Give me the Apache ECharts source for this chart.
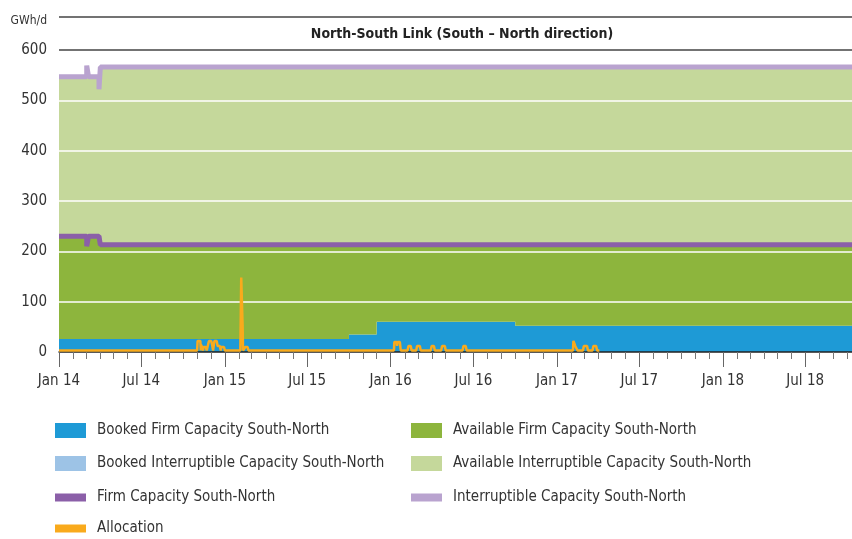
<!DOCTYPE html>
<html>
<head>
<meta charset="utf-8">
<title>North-South Link</title>
<script src="https://cdn.jsdelivr.net/npm/echarts@6/dist/echarts.min.js"></script>
<style>
  html, body { margin: 0; padding: 0; background: #fff; }
  #chart { width: 852px; height: 539px; }
</style>
</head>
<body>
<div id="chart"></div>
<script>
// capacity breakpoints in GWh/d, each value holds until the next date
const capDates = ['2014-01-01', '2014-03-03', '2014-03-07', '2014-03-30', '2014-04-02', '2015-10-01', '2015-12-01', '2016-10-01', '2018-10-12']
const bookedFirm = [26, 26, 26, 26, 26, 35, 60, 52, 52]
const bookedInterruptible = [0, 0, 0, 0, 0, 0, 0, 0, 0]
const firmCapacity = [230, 210, 230, 230, 213, 213, 213, 213, 213]
const interruptibleCapacity = [547, 569, 547, 522, 566, 566, 566, 566, 566]

// daily allocation
const allocDates = [
  '2014-01-01', '2014-11-01', '2014-11-02', '2014-11-08', '2014-11-09', '2014-11-10', '2014-11-12', '2014-11-14',
  '2014-11-15', '2014-11-20', '2014-11-22', '2014-11-26', '2014-11-27', '2014-12-02', '2014-12-04', '2014-12-06',
  '2014-12-09', '2014-12-14', '2014-12-16', '2014-12-21', '2014-12-23', '2014-12-24', '2014-12-30', '2015-01-01',
  '2015-02-04', '2015-02-06', '2015-02-08', '2015-02-09', '2015-02-10', '2015-02-14', '2015-02-15', '2015-02-20',
  '2015-02-22', '2016-01-08', '2016-01-09', '2016-01-14', '2016-01-15', '2016-01-16', '2016-01-21', '2016-01-23',
  '2016-02-07', '2016-02-09', '2016-02-14', '2016-02-16', '2016-02-26', '2016-02-28', '2016-03-05', '2016-03-07',
  '2016-03-29', '2016-03-31', '2016-04-05', '2016-04-07', '2016-04-21', '2016-04-23', '2016-04-29', '2016-05-01',
  '2016-06-07', '2016-06-09', '2016-06-14', '2016-06-16', '2017-02-05', '2017-02-06', '2017-02-08', '2017-02-10',
  '2017-02-13', '2017-02-15', '2017-02-27', '2017-03-01', '2017-03-08', '2017-03-10', '2017-03-20', '2017-03-22',
  '2017-03-28', '2017-03-30', '2017-04-04'
]
const allocValues = [
  3, 3, 22, 22, 3, 14, 14, 3,
  10, 10, 3, 3, 22, 22, 14, 3,
  22, 22, 12, 12, 3, 10, 10, 3,
  3, 148, 148, 53, 3, 3, 10, 10,
  3, 3, 20, 20, 12, 20, 20, 3,
  3, 12, 12, 3, 3, 12, 12, 3,
  3, 12, 12, 3, 3, 12, 12, 3,
  3, 12, 12, 3, 3, 22, 22, 12,
  12, 3, 3, 12, 12, 3, 3, 12,
  12, 3, 3
]

const labelDates = ['2014-01-01', '2014-07-01', '2015-01-01', '2015-07-01', '2016-01-01', '2016-07-01', '2017-01-01', '2017-07-01', '2018-01-01', '2018-07-01']
const tickLabels = ['Jan 14', 'Jul 14', 'Jan 15', 'Jul 15', 'Jan 16', 'Jul 16', 'Jan 17', 'Jul 17', 'Jan 18', 'Jul 18']

const FONT = '"DejaVu Sans Condensed", "Liberation Sans Narrow", sans-serif'

function toTime(s) {
  const p = s.split('-')
  return +new Date(+p[0], +p[1] - 1, +p[2])
}

// monthly tick positions Jan 2014 .. Oct 2018
const monthTicks = []
for (let y = 2014; y <= 2018; y++) {
  for (let m = 0; m < 12; m++) {
    if (y === 2018 && m > 9) break
    monthTicks.push(+new Date(y, m, 1))
  }
}
const labelTicks = labelDates.map(toTime)
const xMin = toTime('2014-01-01')
const xMax = toTime('2018-10-12')

const availableFirm = firmCapacity.map((v, i) => v - bookedFirm[i])
const availableInterruptible = interruptibleCapacity.map((v, i) => v - firmCapacity[i] - bookedInterruptible[i])

function pairs(dates, values) {
  return dates.map((d, i) => [toTime(d), values[i]])
}

function areaSeries(name, color, values) {
  return {
    name: name,
    type: 'line',
    stack: 'cap',
    step: 'end',
    symbol: 'none',
    color: color,
    lineStyle: { width: 0 },
    areaStyle: { opacity: 1, color: color },
    data: pairs(capDates, values)
  }
}

function legendBox(left, top, itemHeight, gap, names) {
  return {
    left: left, top: top, orient: 'vertical', padding: 0,
    itemWidth: 31, itemHeight: itemHeight, itemGap: gap, icon: 'rect',
    selectedMode: false,
    textStyle: { fontSize: 15, color: '#333', fontFamily: FONT, padding: [0, 0, 0, 6] },
    data: names
  }
}

const chart = echarts.init(document.getElementById('chart'))

const option = {
  animation: false,
  textStyle: { fontFamily: FONT },
  grid: { left: 59, right: 0, top: 50, bottom: 187 },
  graphic: [
    {
      type: 'line',
      shape: { x1: 59, y1: 17, x2: 852, y2: 17 },
      style: { stroke: '#444', lineWidth: 1.5 }
    },
    {
      type: 'text',
      style: { x: 47, y: 21, text: 'GWh/d', align: 'right', verticalAlign: 'middle', fontSize: 12, fill: '#333', fontFamily: FONT }
    },
    {
      type: 'text',
      style: { x: 462, y: 34, text: 'North-South Link (South \u2013 North direction)', align: 'center', verticalAlign: 'middle', fontSize: 14, fontWeight: 'bold', fill: '#222', fontFamily: FONT }
    }
  ],
  legend: [
    legendBox(55, 423, 15, 18, ['Booked Firm Capacity South-North', 'Booked Interruptible Capacity South-North']),
    legendBox(55, 490, 8, 16, ['Firm Capacity South-North', 'Allocation']),
    legendBox(411, 423, 15, 18, ['Available Firm Capacity South-North', 'Available Interruptible Capacity South-North']),
    legendBox(411, 490, 8, 16, ['Interruptible Capacity South-North'])
  ],
  xAxis: [
    {
      // series axis
      type: 'time',
      position: 'bottom',
      min: xMin,
      max: xMax,
      axisLine: { show: false },
      axisTick: { show: false },
      axisLabel: { show: false },
      splitLine: { show: false }
    },
    {
      // monthly ticks + labels
      type: 'value',
      position: 'bottom',
      min: xMin,
      max: xMax,
      z: 5,
      axisLine: { lineStyle: { color: '#222', width: 1.5 } },
      axisTick: { customValues: monthTicks, length: 7, lineStyle: { color: '#777', width: 1 } },
      axisLabel: {
        customValues: labelTicks,
        margin: 22,
        fontSize: 15,
        color: '#333',
        fontFamily: FONT,
        formatter: function (val) {
          const i = labelTicks.indexOf(+val)
          return i >= 0 ? tickLabels[i] : ''
        }
      },
      splitLine: { show: false }
    },
    {
      // long ticks at Jan / Jul
      type: 'value',
      position: 'bottom',
      min: xMin,
      max: xMax,
      z: 5,
      axisLine: { show: false },
      axisTick: { customValues: labelTicks, length: 15, lineStyle: { color: '#666', width: 1 } },
      axisLabel: { show: false },
      splitLine: { show: false }
    }
  ],
  yAxis: {
    type: 'value',
    min: 0,
    max: 600,
    interval: 100,
    z: 4,
    axisLine: { show: false },
    axisTick: { show: false },
    axisLabel: { fontSize: 15, color: '#333', margin: 12, fontFamily: FONT },
    splitLine: {
      lineStyle: {
        color: ['rgba(0,0,0,0)', '#fff', '#fff', '#fff', '#fff', '#fff', '#444'],
        width: 1.5
      }
    }
  },
  series: [
    areaSeries('Booked Firm Capacity South-North', '#1e9ad6', bookedFirm),
    areaSeries('Available Firm Capacity South-North', '#8db53d', availableFirm),
    areaSeries('Booked Interruptible Capacity South-North', '#9dc3e6', bookedInterruptible),
    areaSeries('Available Interruptible Capacity South-North', '#c5d89b', availableInterruptible),
    {
      name: 'Firm Capacity South-North',
      type: 'line',
      step: 'end',
      symbol: 'none',
      color: '#8b5fa8',
      lineStyle: { width: 5, color: '#8b5fa8' },
      data: pairs(capDates, firmCapacity)
    },
    {
      name: 'Interruptible Capacity South-North',
      type: 'line',
      step: 'end',
      symbol: 'none',
      color: '#b9a3cf',
      lineStyle: { width: 5, color: '#b9a3cf' },
      data: pairs(capDates, interruptibleCapacity)
    },
    {
      name: 'Allocation',
      type: 'line',
      symbol: 'none',
      color: '#f9aa1c',
      z: 5,
      lineStyle: { width: 2.5, color: '#f9aa1c' },
      data: pairs(allocDates, allocValues)
    }
  ]
}

chart.setOption(option)
</script>
</body>
</html>
